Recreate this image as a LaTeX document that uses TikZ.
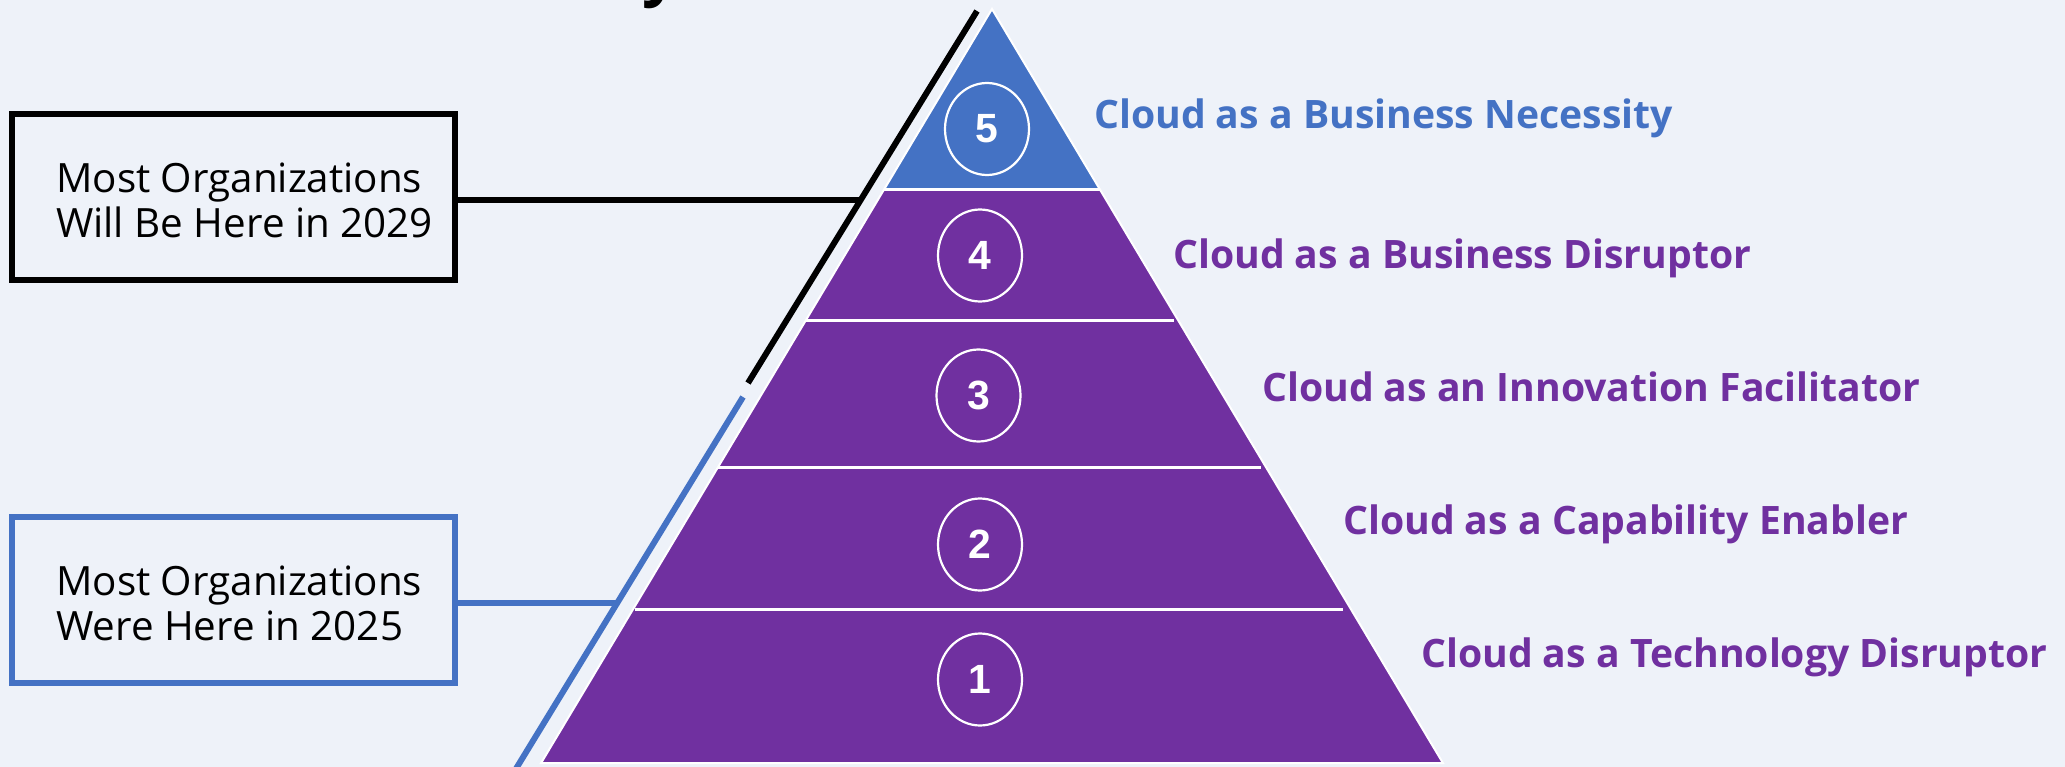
\documentclass[tikz,border=0pt]{standalone}
\usepackage{fontspec}
\setmainfont{Open Sans}
\newfontfamily\digitfont{Liberation Sans}
\usetikzlibrary{shapes.geometric}
\definecolor{bg}{HTML}{EEF2F9}
\definecolor{pblue}{HTML}{4472C4}
\definecolor{ppurple}{HTML}{7030A0}
\tikzset{
  boxtext/.style={anchor=west, align=left, inner sep=0pt, font=\fontsize{40.5}{45}\selectfont},
  frame/.style={draw, line width=6bp, minimum width=443bp, minimum height=166bp, inner sep=0pt},
  lvlabel/.style={anchor=base west, inner sep=0pt, font=\bfseries\fontsize{39.3}{44}\selectfont},
  numc/.style={ellipse, draw=white, line width=2.2bp, minimum width=84bp, minimum height=92bp, inner sep=0pt,
    text=white, font=\digitfont\bfseries\fontsize{41}{41}\selectfont},
  divider/.style={white, line width=3bp},
}
\begin{document}
\begin{tikzpicture}[x=1bp,y=-1bp]
\useasboundingbox[fill=bg] (0,0) rectangle (2065,767);
% cut-off title
\node[anchor=base west, inner sep=0pt, font=\bfseries\fontsize{64}{64}\selectfont] (ttl) at (642,-6) {y};
% pyramid
\fill[ppurple] (884.4,189) -- (1099.6,189) -- (1442.9,763) -- (541.1,763) -- cycle;
\fill[pblue] (992,9) -- (1099.6,189) -- (884.4,189) -- cycle;
\draw[white, line width=2bp, line join=miter] (992,9) -- (1442.9,763) -- (541.1,763) -- cycle;
\draw[divider] (884.4,189) -- (1099.6,189);
\draw[divider] (806,320) -- (1174,320);
\draw[divider] (718.1,467) -- (1261,467);
\draw[divider] (635,609) -- (1343,609);
% numbers
\node[numc] (n5) at (987,129) {5};
\node[numc] (n4) at (980,255.5) {4};
\node[numc] (n3) at (978.5,395.5) {3};
\node[numc] (n2) at (980,544.5) {2};
\node[numc] (n1) at (980,679.5) {1};
% labels
\node[lvlabel, text=pblue] (l5) at (1094,128) {Cloud as a Business Necessity};
\node[lvlabel, text=ppurple] (l4) at (1173,268) {Cloud as a Business Disruptor};
\node[lvlabel, text=ppurple] (l3) at (1262,401) {Cloud as an Innovation Facilitator};
\node[lvlabel, text=ppurple] (l2) at (1343,534) {Cloud as a Capability Enabler};
\node[lvlabel, text=ppurple] (l1) at (1421,667) {Cloud as a Technology Disruptor};
% slanted markers
\coordinate (ktop) at (977,11);
\coordinate (kbot) at (748,383);
\coordinate (btop) at (743,397);
\coordinate (bbot) at (514,772);
\draw[black, line width=6bp] (ktop) -- (kbot);
\draw[pblue, line width=6bp] (btop) -- (bbot);
\coordinate (c29) at (860,200);
\coordinate (c25) at (617,603);
% boxes
\node[frame, draw=black] (box29) at (233.5,197) {};
\node[boxtext] (t29) at (56,200) {Most Organizations\\Will Be Here in 2029};
\node[frame, draw=pblue] (box25) at (233.5,600) {};
\node[boxtext] (t25) at (56,603) {Most Organizations\\Were Here in 2025};
\draw[black, line width=6bp] (box29.east |- c29) -- (c29);
\draw[pblue, line width=6bp] (box25.east |- c25) -- (c25);
\end{tikzpicture}
\end{document}
